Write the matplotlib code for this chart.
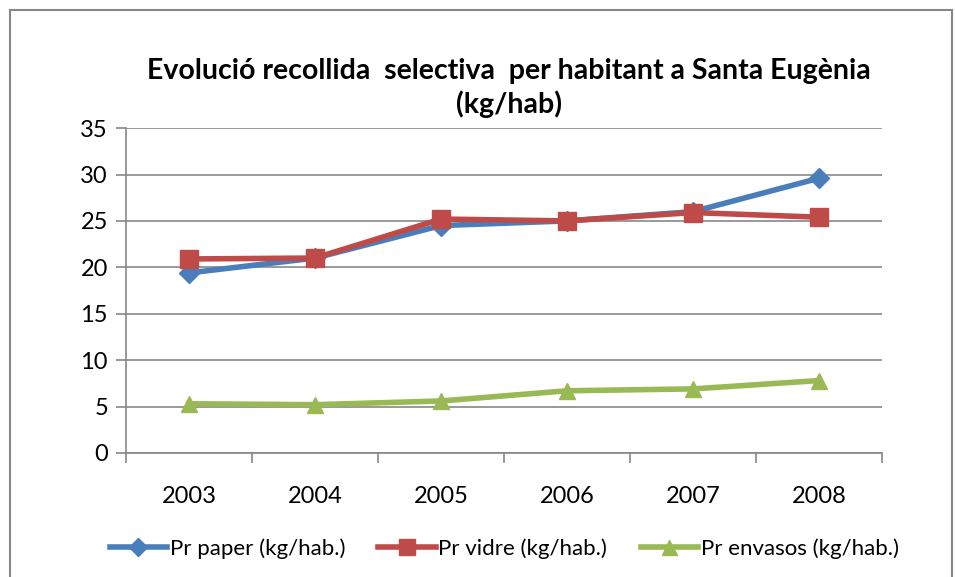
import numpy as np
import matplotlib
from matplotlib import pyplot as plt
from matplotlib.patches import Rectangle

plt.rcParams['font.family'] = ['Lato', 'DejaVu Sans']

years = ['2003', '2004', '2005', '2006', '2007', '2008']
paper = [19.4, 21.0, 24.5, 25.0, 26.0, 29.6]
vidre = [20.9, 21.0, 25.2, 25.0, 25.9, 25.4]
envasos = [5.3, 5.2, 5.6, 6.7, 6.9, 7.8]

fig = plt.figure(figsize=(9.55, 5.77), dpi=100)
fig.patches.append(Rectangle((10/955, -0.1), (952-10)/955, 1 - 10/577 + 0.1,
                             transform=fig.transFigure, fill=False,
                             edgecolor='#878787', linewidth=1.5))
ax = fig.add_axes([0.132, 0.215, 0.7916, 0.563])

x = np.arange(len(years))
ax.plot(x, paper, color='#4a7ebb', lw=4, marker='D', ms=10, label='Pr paper (kg/hab.)')
ax.plot(x, vidre, color='#be4b48', lw=4, marker='s', ms=13, label='Pr vidre (kg/hab.)')
ax.plot(x, envasos, color='#98b954', lw=4, marker='^', ms=12, label='Pr envasos (kg/hab.)')

ax.set_xlim(-0.5, len(years) - 0.5)
ax.set_ylim(0, 35)
ax.set_yticks(range(0, 36, 5))
ax.set_xticks(x)
ax.set_xticklabels(years)
ax.set_xticks(np.arange(-0.5, len(years)), minor=True)
ax.tick_params(axis='x', which='major', length=0, pad=24, labelsize=17)
ax.tick_params(axis='x', which='minor', length=7, color='#878787', width=1.2)
ax.tick_params(axis='y', length=7, color='#878787', width=1.2, labelsize=17, pad=6)
ax.grid(axis='y', color='#878787', lw=1.2)
ax.set_axisbelow(True)
for s in ['top', 'right']:
    ax.spines[s].set_visible(False)
for s in ['left', 'bottom']:
    ax.spines[s].set_color('#878787')
    ax.spines[s].set_linewidth(1.2)

fig.text(0.533, 0.848, 'Evolució recollida  selectiva  per habitant a Santa Eugènia\n(kg/hab)',
         ha='center', va='center', fontsize=20.5, fontweight='bold', linespacing=1.3)

ax.legend(loc='upper center', bbox_to_anchor=(0.5, -0.2), ncol=3, frameon=False,
          fontsize=16, handlelength=2.6, handletextpad=0.1, columnspacing=1.5, markerscale=0.9)

fig.savefig('out.png', dpi=100)
